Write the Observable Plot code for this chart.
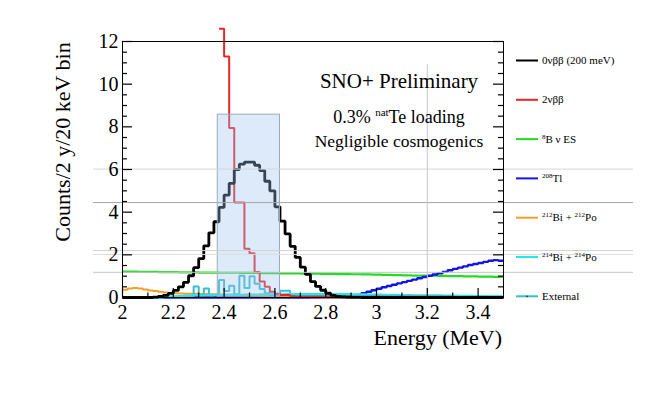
<!DOCTYPE html>
<html><head><meta charset="utf-8">
<script src="https://cdn.jsdelivr.net/npm/d3@7"></script>
<script src="https://cdn.jsdelivr.net/npm/@observablehq/plot@0.6"></script>
<style>
html,body{margin:0;padding:0;background:#fff;}
#chart{position:relative;width:664px;height:398px;font-family:"Liberation Serif","Times New Roman",serif;}
#chart svg{position:absolute;left:0;top:0;}
</style></head><body><div id="chart"></div>
<script>
// ---- histogram binning: 20 keV bins from 2.0 to 3.5 MeV (75 bins) ----
const binStart = 2.0, binWidth = 0.02, binEnd = 3.5;

// ---- series values, counts / 2 y / 20 keV bin ----
const zeroNuBB = [0,0,0,0,0,0,0.02,0.05,0.1,0.19,
  0.33,0.5,0.71,1.02,1.4,1.82,2.42,3.03,3.55,4.22,
  4.8,5.35,6.0,6.25,6.35,6.35,6.2,5.95,5.45,5.0,
  4.25,3.58,2.98,2.4,1.88,1.42,1.08,0.74,0.52,0.34,
  0.2,0.1,0.05,0.03,0.02,0.01,0.01,0,0,0,
  0,0,0,0,0,0,0,0,0,0,
  0,0,0,0,0,0,0,0,0,0,
  0,0,0,0,0];
const twoNuBB = [null,null,null,null,null,null,null,null,null,null,
  null,null,null,null,null,null,null,null,null,12.6,
  11.3,7.95,4.45,4.45,2.28,2.07,1.2,0.75,0.5,0.27,
  0.18,0.12,0.12,0.06,0.03,0.03,0.03,0.03,0.03,0.03,
  0.03,0.03,0.03,0.03,0.03,0.03,0.03,0.03,0.03,0.03,
  0.03,0.03,0.03,0.03,0.03,0.03,0.03,0.03,0.03,0.03,
  0.03,0.03,0.03,0.03,0.03,0.01,0.01,0.01,0.01,0.01,
  0.01,0.01,0.01,0.01,0.01];
const b8NuES = [1.21,1.21,1.21,1.2,1.2,1.2,1.2,1.19,1.19,1.19,
  1.19,1.18,1.18,1.18,1.18,1.17,1.17,1.17,1.17,1.16,
  1.16,1.16,1.16,1.15,1.15,1.15,1.15,1.14,1.14,1.14,
  1.14,1.13,1.13,1.13,1.13,1.12,1.12,1.12,1.12,1.11,
  1.11,1.11,1.1,1.1,1.1,1.09,1.09,1.08,1.08,1.07,
  1.07,1.06,1.06,1.05,1.05,1.04,1.04,1.03,1.03,1.03,
  1.02,1.02,1.01,1.01,1.0,1.0,1.0,0.99,0.99,0.99,
  0.98,0.98,0.98,0.97,0.97];
const tl208 = [0,0,0,0,0,0,0,0,0,0,
  0,0,0,0,0,0,0,0,0,0,
  0,0,0,0,0,0,0,0,0,0,
  0,0,0,0,0,0,0,0,0,0,
  0,0,0,0,0,0.05,0.12,0.2,0.27,0.34,
  0.41,0.48,0.54,0.6,0.66,0.72,0.78,0.84,0.9,0.96,
  1.02,1.08,1.14,1.2,1.28,1.34,1.4,1.46,1.52,1.57,
  1.62,1.67,1.72,1.75,1.72];
const bi212po212 = [0.36,0.42,0.44,0.42,0.38,0.33,0.3,0.27,0.24,0.21,
  0.2,0.19,0.18,0.17,0.17,0.16,0.16,0.15,0.15,0.14,
  0.14,0.13,0.13,0.12,0.12,0.11,0.1,0.09,0.08,0.07,
  0.06,0.05,0.04,0.03,0.03,0.02,0.02,0.01,0.01,0,
  0,0,0,0,0,0,0,0,0,0,
  0,0,0,0,0,0,0,0,0,0,
  0,0,0,0,0,0,0,0,0,0,
  0,0,0,0,0];
const bi214po214 = [0,0,0,0,0,0,0,0,0.02,0.04,
  0.06,0.07,0.08,0.09,0.1,0.1,0.11,0.11,0.12,0.12,
  0.12,0.13,0.13,0.13,0.14,0.14,0.14,0.15,0.15,0.15,
  0.15,0.15,0.16,0.16,0.16,0.16,0.16,0.16,0.16,0.16,
  0.16,0.16,0.16,0.16,0.16,0.15,0.15,0.15,0.14,0.14,
  0.14,0.13,0.13,0.13,0.12,0.12,0.12,0.11,0.11,0.11,
  0.1,0.1,0.1,0.09,0.09,0.09,0.08,0.08,0.08,0.07,
  0.07,0.07,0.06,0.06,0.06];
const external = [0,0,0,0,0,0,0,0,0.03,0.05,
  0.05,0.05,0.05,0.05,0.52,0.1,0.42,0.1,0.12,0.82,
  0.3,0.55,0.15,1.02,0.45,1.0,0.65,0.4,0.2,0.12,
  0.12,0.32,0.32,0.1,0.08,0.08,0.08,0.08,0.08,0.08,
  0.08,0.08,0.08,0.07,0.07,0.07,0.07,0.07,0.07,0.07,
  0.07,0.06,0.06,0.06,0.06,0.06,0.06,0.06,0.06,0.06,
  0.05,0.05,0.05,0.05,0.05,0.05,0.05,0.05,0.05,0.05,
  0.05,0.05,0.05,0.05,0.05];

// ---- region of interest box and stray guide lines in the picture ----
const roiBox = [{x1: 2.375, x2: 2.62, y1: 0, y2: 8.57}];
const guideLevels = [6.02, 4.45, 2.2, 2.02, 1.18];
const guideTones = ["#d6d6d6", "#a6a6a6", "#d2d2d2", "#dcdcdc", "#c4c4c4"];
const guideSpan = [1.886, 4.012];
const verticalGuide = [{x: 3.2, y1: 0, y2: 10.9}];

// ---- axes ----
const xDomain = [2, 3.5], yDomain = [0, 12];
const xTicks = [2, 2.2, 2.4, 2.6, 2.8, 3, 3.2, 3.4];
const xTickLabels = ["2", "2.2", "2.4", "2.6", "2.8", "3", "3.2", "3.4"];
const xMinorTicks = [2.1, 2.3, 2.5, 2.7, 2.9, 3.1, 3.3];
const yTicks = [0, 2, 4, 6, 8, 10, 12];
const yTickLabels = ["0", "2", "4", "6", "8", "10", "12"];
const yMinorTicks = [0.5, 1, 1.5, 2.5, 3, 3.5, 4.5, 5, 5.5, 6.5, 7, 7.5, 8.5, 9, 9.5, 10.5, 11, 11.5];

// ---- legend ----
const seriesNames = ["0νββ (200 meV)", "2νββ", "8B ν ES", "208Tl", "212Bi + 212Po", "214Bi + 214Po", "External"];
const seriesLabelParts = [
  [["0νββ (200 meV)"]],
  [["2νββ"]],
  [["8", 1], ["B ν ES"]],
  [["208", 1], ["Tl"]],
  [["212", 1], ["Bi + "], ["212", 1], ["Po"]],
  [["214", 1], ["Bi + "], ["214", 1], ["Po"]],
  [["External"]]
];
const seriesColors = ["#000000", "#e8262a", "#22dd22", "#1414e6", "#f0a028", "#22e6f0", "#3cbccc"];
const seriesWidths = [2.8, 2, 2.2, 2.4, 2, 2, 2];
const seriesValues = [zeroNuBB, twoNuBB, b8NuES, tl208, bi212po212, bi214po214, external];
const drawOrder = [2, 3, 4, 6, 5, 1, 0];

function stepRows(values) {
  const rows = values.map((v, k) => ({x: binStart + k * binWidth, y: v}));
  rows.push({x: binEnd, y: values[values.length - 1]});
  return rows;
}

const xLabelOf = new Map(xTicks.map((t, i) => [t, xTickLabels[i]]));
const yLabelOf = new Map(yTicks.map((t, i) => [t, yTickLabels[i]]));

const W = 664, H = 398, mL = 122, mR = 161, mT = 41, mB = 101;
const frameW = W - mL - mR, frameH = H - mT - mB;
// tick lengths in pixels, converted to data units for the rule marks
const majorY = 10, minorY = 5, majorX = 9, minorX = 4.5;
const xPerPx = (xDomain[1] - xDomain[0]) / frameW, yPerPx = (yDomain[1] - yDomain[0]) / frameH;

const histMarks = drawOrder.map(i => Plot.line(stepRows(seriesValues[i]), {
  x: "x", y: "y", curve: "step-after", stroke: seriesColors[i], strokeWidth: seriesWidths[i],
  strokeLinejoin: "miter", strokeLinecap: "butt"
}));

function yTickRules(ticks, len, side) {
  const a = side === "left" ? xDomain[0] : xDomain[1];
  const b = side === "left" ? xDomain[0] + len * xPerPx : xDomain[1] - len * xPerPx;
  return Plot.ruleY(ticks, {y: d => d, x1: () => a, x2: () => b, stroke: "#000", strokeWidth: 1.2});
}
function xTickRules(ticks, len) {
  return Plot.ruleX(ticks, {x: d => d, y1: () => yDomain[0], y2: () => yDomain[0] + len * yPerPx, stroke: "#000", strokeWidth: 1.2});
}

const chart = Plot.plot({
  width: W, height: H,
  marginLeft: mL, marginRight: mR, marginTop: mT, marginBottom: mB,
  x: {domain: xDomain},
  y: {domain: yDomain},
  style: {fontFamily: "'Liberation Serif', 'Times New Roman', serif", background: "transparent", overflow: "visible", color: "#000"},
  marks: [
    ...histMarks,
    Plot.rect(roiBox, {x1: "x1", x2: "x2", y1: "y1", y2: "y2", fill: "rgb(155,195,241)", fillOpacity: 0.35, stroke: "#9aabbf", strokeWidth: 1}),
    Plot.ruleY(guideLevels, {y: d => d, x1: () => guideSpan[0], x2: () => guideSpan[1], stroke: (d, i) => guideTones[i], strokeWidth: 1}),
    Plot.ruleX(verticalGuide, {x: "x", y1: "y1", y2: "y2", stroke: "#c8c8c8", strokeWidth: 1}),
    Plot.frame({stroke: "#000", strokeWidth: 1}),
    yTickRules(yTicks, majorY, "left"),
    yTickRules(yMinorTicks, minorY, "left"),
    yTickRules(yTicks, majorY, "right"),
    yTickRules(yMinorTicks, minorY, "right"),
    xTickRules(xTicks, majorX),
    xTickRules(xMinorTicks, minorX),
    Plot.axisY(yTicks, {anchor: "left", tickSize: 0, tickPadding: 4, fontSize: 20, tickFormat: d => yLabelOf.get(d), label: null}),
    Plot.axisX(xTicks, {anchor: "bottom", tickSize: 0, tickPadding: 7, fontSize: 20, tickFormat: d => xLabelOf.get(d), label: null})
  ]
});
document.getElementById("chart").appendChild(chart);

// ---- overlay text: titles, annotations, legend ----
const ov = d3.select("#chart").append("svg")
  .attr("width", W).attr("height", H)
  .style("font-family", "'Liberation Serif', 'Times New Roman', serif")
  .style("pointer-events", "none");

function richText(parent, x, y, parts, size, anchor, supSize, supRise) {
  const t = parent.append("text").attr("x", x).attr("y", y).attr("font-size", size)
    .attr("text-anchor", anchor).attr("fill", "#000");
  let raised = false;
  parts.forEach(([s, sup]) => {
    const sp = t.append("tspan").text(s);
    if (sup) { sp.attr("font-size", supSize).attr("dy", raised ? 0 : -supRise); raised = true; }
    else { sp.attr("font-size", size).attr("dy", raised ? supRise : 0); raised = false; }
  });
  return t;
}

ov.append("text").attr("transform", "translate(70,142) rotate(-90)").attr("text-anchor", "middle")
  .attr("font-size", 22).attr("fill", "#000").text("Counts/2 y/20 keV bin");
ov.append("text").attr("x", 502).attr("y", 345).attr("text-anchor", "end")
  .attr("font-size", 22).attr("fill", "#000").text("Energy (MeV)");

const annotationLines = [
  {parts: [["SNO+ Preliminary"]], size: 21, y: 88},
  {parts: [["0.3% "], ["nat", 1], ["Te loading"]], size: 18, y: 123},
  {parts: [["Negligible cosmogenics"]], size: 17.5, y: 147}
];
annotationLines.forEach(a => richText(ov, 399, a.y, a.parts, a.size, "middle", 11, 7));

const legendTop = 60.5, legendStep = 39.3;
seriesNames.forEach((name, i) => {
  const y = legendTop + i * legendStep;
  const g = ov.append("g").attr("aria-label", name);
  g.append("line").attr("x1", 516).attr("x2", 538).attr("y1", y).attr("y2", y)
    .attr("stroke", seriesColors[i]).attr("stroke-width", 2);
  if (name === "External") {
    g.append("circle").attr("cx", 527).attr("cy", y).attr("r", 0.9).attr("fill", "#1a3a40");
  }
  richText(g, 542, y + 3.5, seriesLabelParts[i], 11, "start", 7, 4);
});
</script>
</body></html>
